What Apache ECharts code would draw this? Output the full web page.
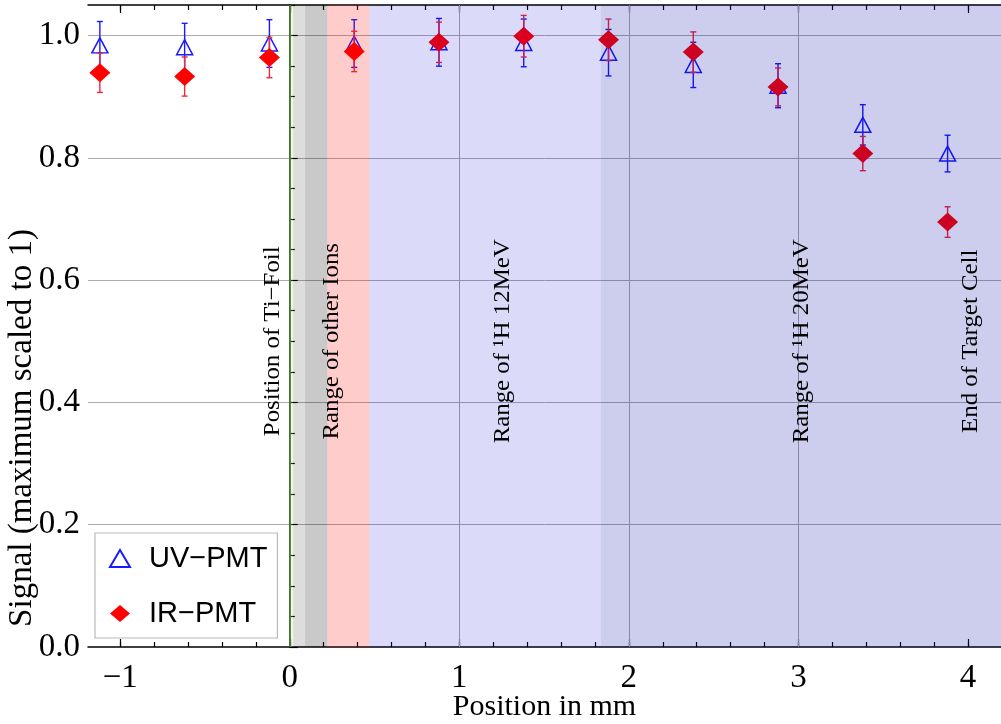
<!DOCTYPE html>
<html>
<head>
<meta charset="utf-8">
<script src="https://cdn.jsdelivr.net/npm/echarts@6/dist/echarts.min.js"></script>
<style>
  html, body { margin: 0; padding: 0; background: #ffffff; }
  #chart { width: 1001px; height: 724px; }
</style>
</head>
<body>
<div id="chart"></div>
<script>
// Scan positions along the target (mm) and normalised signals with uncertainties
const positions = [-1.12, -0.62, -0.12, 0.38, 0.88, 1.38, 1.88, 2.38, 2.88, 3.38, 3.88];
const uvSignal  = [0.984, 0.981, 0.987, 0.987, 0.989, 0.988, 0.972, 0.952, 0.918, 0.854, 0.807];
const uvError   = [0.039, 0.039, 0.039, 0.039, 0.039, 0.039, 0.038, 0.037, 0.036, 0.033, 0.030];
const irSignal  = [0.939, 0.933, 0.964, 0.974, 0.989, 0.999, 0.993, 0.973, 0.916, 0.807, 0.695];
const irError   = [0.032, 0.032, 0.033, 0.033, 0.033, 0.034, 0.034, 0.033, 0.031, 0.028, 0.025];

// Depth regions (mm)
const regionStarts = [0, 0.02, 0.09, 0.222, 0.468, 1.835];
const regionEnds   = [0.02, 0.09, 0.222, 0.468, 4.2, 4.2];
const foilPosition = 0;
const xGridLines   = [1, 2, 3];

// Annotations: text, position in mm, signal level of the text centre
const noteTexts = ['Position of Ti\u2212Foil', 'Range of other Ions', 'Range of \u00b9H 12MeV', 'Range of \u00b9H 20MeV', 'End of Target Cell'];
const noteX     = [-0.1, 0.25, 1.26, 3.02, 4.02];
const noteY     = [0.5, 0.5, 0.5, 0.5, 0.5];

// Axis ticks
const xMajorTicks = [-1, 0, 1, 2, 3, 4];
const xMinorTicks = [-1.0, -0.8, -0.6, -0.4, -0.2, 0.0, 0.2, 0.4, 0.6, 0.8, 1.0, 1.2, 1.4, 1.6, 1.8, 2.0,
                     2.2, 2.4, 2.6, 2.8, 3.0, 3.2, 3.4, 3.6, 3.8, 4.0];
const yMinorTicks = [0.05, 0.1, 0.15, 0.25, 0.3, 0.35, 0.45, 0.5, 0.55, 0.65, 0.7, 0.75, 0.85, 0.9, 0.95, 1.05];

const X_MIN = -1.19, X_MAX = 4.195, Y_MIN = 0, Y_MAX = 1.05;
const regionFill = [
  'rgba(185,220,90,0.22)',
  'rgba(0,0,0,0.135)',
  'rgba(0,0,0,0.21)',
  'rgba(255,0,0,0.2)',
  'rgba(0,0,215,0.14)',
  'rgba(30,30,90,0.075)'
];
const serif = '"Liberation Serif", "DejaVu Serif", serif';
const sans = '"Liberation Sans", Arial, sans-serif';

function errorBars(values, errors) {
  return positions.map((p, i) => [p, values[i] - errors[i], values[i] + errors[i]]);
}

function renderErrorBar(params, api) {
  const x = api.value(0);
  const top = api.coord([x, api.value(2)]);
  const bot = api.coord([x, api.value(1)]);
  const half = 3;
  const style = { stroke: api.visual('color'), lineWidth: 1.4 };
  return {
    type: 'group',
    children: [
      { type: 'line', shape: { x1: top[0], y1: top[1], x2: bot[0], y2: bot[1] }, style },
      { type: 'line', shape: { x1: top[0] - half, y1: top[1], x2: top[0] + half, y2: top[1] }, style },
      { type: 'line', shape: { x1: bot[0] - half, y1: bot[1], x2: bot[0] + half, y2: bot[1] }, style }
    ]
  };
}

function renderRegion(params, api) {
  const cs = params.coordSys;
  const a = api.coord([api.value(0), 0])[0];
  const b = api.coord([api.value(1), 0])[0];
  const left = Math.max(a, cs.x);
  const right = Math.min(b, cs.x + cs.width);
  return {
    type: 'rect',
    shape: { x: left, y: cs.y, width: right - left, height: cs.height },
    style: { fill: regionFill[params.dataIndex] }
  };
}

function renderNote(params, api) {
  const p = api.coord([api.value(0), api.value(1)]);
  return {
    type: 'text',
    x: p[0], y: p[1],
    rotation: Math.PI / 2,
    scaleX: 1.08,
    style: {
      text: noteTexts[params.dataIndex],
      fontFamily: serif, fontSize: 23, fill: '#000',
      align: 'center', verticalAlign: 'middle'
    }
  };
}

function tickAxis(position, ticks, len, extra) {
  return Object.assign({
    type: 'value', position, min: X_MIN, max: X_MAX, gridIndex: 0,
    axisLine: { show: false },
    axisTick: { show: true, inside: true, length: len, customValues: ticks, lineStyle: { color: '#000', width: 1.2 } },
    axisLabel: { show: false },
    splitLine: { show: false }
  }, extra || {});
}

const chart = echarts.init(document.getElementById('chart'), null, { renderer: 'canvas' });

chart.setOption({
  animation: false,
  grid: { left: 88, right: 0, top: 5, bottom: 77, containLabel: false, outerBoundsMode: 'none' },
  legend: {
    orient: 'vertical',
    left: 95, top: 533,
    data: ['UV\u2212PMT', 'IR\u2212PMT'],
    backgroundColor: '#ffffff',
    borderColor: '#b9b9b9', borderWidth: 1.2,
    padding: [11, 10, 10, 14],
    itemGap: 26,
    itemWidth: 20, itemHeight: 17,
    textStyle: { fontFamily: sans, fontSize: 29, color: '#000', padding: [0, 0, 0, 14] }
  },
  xAxis: [
    {
      type: 'value', position: 'bottom', min: X_MIN, max: X_MAX,
      name: 'Position in mm', nameLocation: 'middle', nameGap: 45, nameMoveOverlap: false,
      nameTextStyle: { fontFamily: serif, fontSize: 30, color: '#000' },
      axisLine: { show: true, lineStyle: { color: '#000', width: 1.5 } },
      axisTick: { show: true, inside: true, length: 8, customValues: xMajorTicks, lineStyle: { color: '#000', width: 1.2 } },
      axisLabel: {
        show: true, margin: 15,
        customValues: xMajorTicks,
        fontFamily: serif, fontSize: 33, color: '#000',
        formatter: v => (v < 0 ? '\u2212' + Math.abs(v) : String(v))
      },
      splitLine: { show: false }
    },
    tickAxis('bottom', xMinorTicks, 5),
    tickAxis('top', xMajorTicks, 8, { axisLine: { show: true, lineStyle: { color: '#000', width: 1.5 } } }),
    tickAxis('top', xMinorTicks, 5)
  ],
  yAxis: [
    {
      type: 'value', position: 'left', min: Y_MIN, max: Y_MAX, interval: 0.2,
      axisLine: { show: true, lineStyle: { color: '#000', width: 1.5 } },
      axisTick: { show: true, inside: true, length: 8, lineStyle: { color: '#000', width: 1.2 } },
      axisLabel: {
        show: true, margin: 8, showMaxLabel: false,
        fontFamily: serif, fontSize: 33, color: '#000',
        formatter: v => v.toFixed(1)
      },
      splitLine: { show: true, showMaxLine: false, showMinLine: false, lineStyle: { color: '#ababab', width: 1 } }
    },
    {
      type: 'value', position: 'left', min: Y_MIN, max: Y_MAX,
      axisLine: { show: false },
      axisTick: { show: true, inside: true, length: 5, customValues: yMinorTicks, lineStyle: { color: '#000', width: 1.2 } },
      axisLabel: { show: false },
      splitLine: { show: false }
    }
  ],
  graphic: [{
    type: 'text',
    x: 22, y: 428,
    rotation: Math.PI / 2,
    style: {
      text: 'Signal (maximum scaled to 1)',
      fontFamily: serif, fontSize: 33, fill: '#000',
      align: 'center', verticalAlign: 'middle'
    }
  }],
  series: [
    {
      name: 'UV error', type: 'custom', z: 2,
      renderItem: renderErrorBar,
      itemStyle: { color: '#1a1aff' },
      encode: { x: 0, y: [1, 2] },
      data: errorBars(uvSignal, uvError)
    },
    {
      name: 'UV\u2212PMT', type: 'scatter', z: 3,
      symbol: 'triangle', symbolSize: [16, 15],
      itemStyle: { color: 'rgba(255,255,255,0)', borderColor: '#1a1aff', borderWidth: 1.5, opacity: 1 },
      data: positions.map((p, i) => [p, uvSignal[i]])
    },
    {
      name: 'IR error', type: 'custom', z: 4,
      renderItem: renderErrorBar,
      itemStyle: { color: '#f0283c' },
      encode: { x: 0, y: [1, 2] },
      data: errorBars(irSignal, irError)
    },
    {
      name: 'IR\u2212PMT', type: 'scatter', z: 5,
      symbol: 'diamond', symbolSize: [21, 19],
      itemStyle: { color: '#ff0000', opacity: 1 },
      data: positions.map((p, i) => [p, irSignal[i]]),
      markLine: {
        silent: true, symbol: 'none', z: 6,
        label: { show: false },
        data: xGridLines.map(v => ({ xAxis: v, lineStyle: { color: '#a8a8a8', width: 1, type: 'solid' } }))
          .concat([{ xAxis: foilPosition, lineStyle: { color: '#3d7a3d', width: 1.6, type: 'solid' } }])
      }
    },
    {
      name: 'Regions', type: 'custom', z: 10, silent: true,
      renderItem: renderRegion,
      encode: { x: [0, 1] },
      data: regionStarts.map((s, i) => [s, regionEnds[i]])
    },
    {
      name: 'Notes', type: 'custom', z: 11, silent: true,
      renderItem: renderNote,
      encode: { x: 0, y: 1 },
      data: noteX.map((x, i) => [x, noteY[i]])
    }
  ]
});
</script>
</body>
</html>
